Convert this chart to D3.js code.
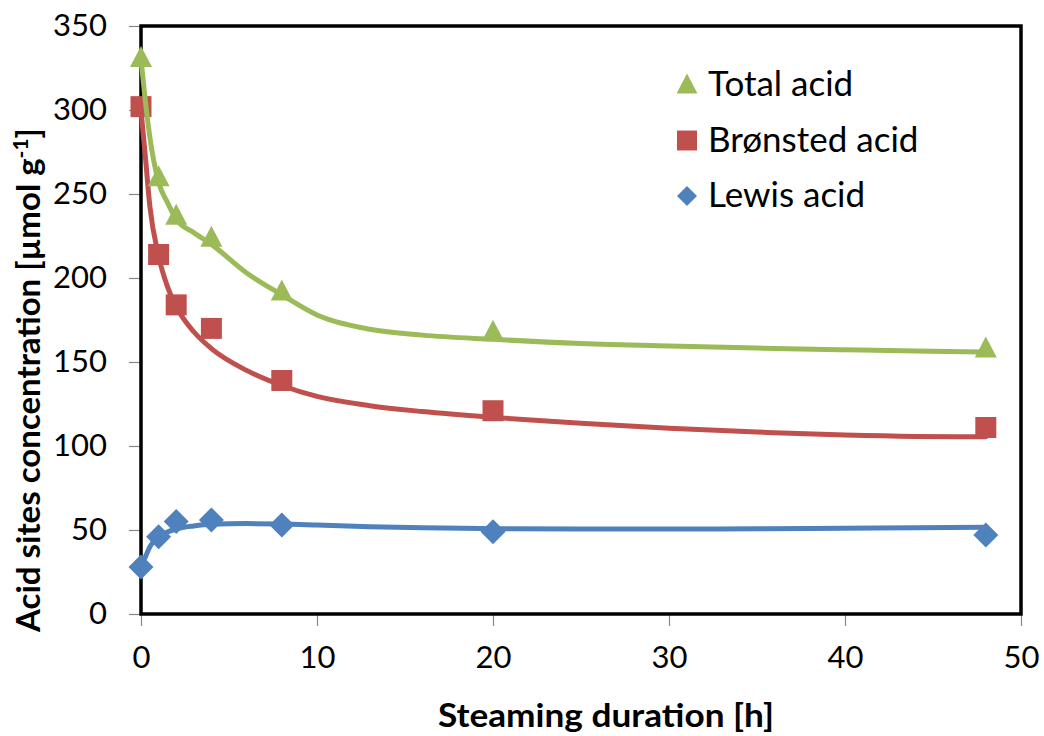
<!DOCTYPE html>
<html>
<head>
<meta charset="utf-8">
<title>Acid sites vs steaming</title>
<script src="https://cdn.jsdelivr.net/npm/d3@7"></script>
<style>
  body { margin: 0; background: #fff; }
  svg { display: block; }
  text { font-family: Lato, "Open Sans", sans-serif; fill: #000; }
</style>
</head>
<body>
<svg id="chart" width="1044" height="736"></svg>
<script>
// measured points
var hours = [0, 1, 2, 4, 8, 20, 48];
var totalAcid = [331, 260, 237, 224, 192, 168, 158];
var bronstedAcid = [302, 214, 184, 170, 139, 121, 111];
var lewisAcid = [28, 46, 55, 56, 53, 49, 47];

// trend lines
var fitHours = [0, 0.25, 0.5, 1, 1.5, 2, 3, 4, 6, 8, 10, 13, 16, 20, 25, 30, 35, 40, 44, 48];
var totalFit = [330, 305, 284, 257, 245, 235, 227, 220, 203, 190, 178, 169.5, 166, 163.5, 161, 159.5, 158.3, 157.3, 156.5, 156];
var bronstedFit = [300, 272, 243, 213, 195, 183, 168, 158, 145, 136, 129.5, 124, 120.5, 117, 113.5, 110.5, 108.3, 106.5, 105.7, 105.5];
var lewisFit = [28, 34, 40, 46, 48.8, 50.6, 52.4, 53.4, 53.8, 53.6, 53, 52, 51.3, 50.8, 50.6, 50.6, 50.7, 51, 51.3, 51.6];

var xTicks = [0, 10, 20, 30, 40, 50];
var yTicks = [0, 50, 100, 150, 200, 250, 300, 350];

var svg = d3.select('#chart');
var plotLeft = 141, plotRight = 1021, plotTop = 26, plotBottom = 614;

var x = d3.scaleLinear().domain([0, 50]).range([plotLeft, plotRight]);
var y = d3.scaleLinear().domain([0, 350]).range([plotBottom, plotTop]);

// axes with outside ticks
var yAxis = svg.append('g')
  .attr('transform', 'translate(' + plotLeft + ',0)')
  .call(d3.axisLeft(y).tickValues(yTicks).tickSize(12).tickPadding(22));
var xAxis = svg.append('g')
  .attr('transform', 'translate(0,' + plotBottom + ')')
  .call(d3.axisBottom(x).tickValues(xTicks).tickSize(12).tickPadding(20));

[yAxis, xAxis].forEach(function (g) {
  g.select('.domain').remove();
  g.selectAll('line').attr('stroke', '#888').attr('stroke-width', 1.2);
  g.selectAll('text').attr('font-family', 'Lato, sans-serif').attr('font-size', 31).attr('fill', '#000');
});

// plot frame
svg.append('rect')
  .attr('x', plotLeft).attr('y', plotTop)
  .attr('width', plotRight - plotLeft).attr('height', plotBottom - plotTop)
  .attr('fill', 'none').attr('stroke', '#000').attr('stroke-width', 3.5);

var series = [
  {name: 'Lewis acid', color: '#4F81BD', shape: 'diamond', values: lewisAcid, fit: lewisFit},
  {name: 'Brønsted acid', color: '#C0504D', shape: 'square', values: bronstedAcid, fit: bronstedFit},
  {name: 'Total acid', color: '#9BBB59', shape: 'triangle', values: totalAcid, fit: totalFit}
];

function markerPath(shape) {
  if (shape === 'triangle') return 'M0,-12L11,9L-11,9Z';
  if (shape === 'square') return 'M-10.5,-10.5H10.5V10.5H-10.5Z';
  return 'M0,-12.5L12.5,0L0,12.5L-12.5,0Z';
}

var line = d3.line()
  .x(function (d) { return x(d[0]); })
  .y(function (d) { return y(d[1]); })
  .curve(d3.curveMonotoneX);

series.forEach(function (s) {
  svg.append('path')
    .datum(d3.zip(fitHours, s.fit))
    .attr('d', line)
    .attr('fill', 'none')
    .attr('stroke', s.color)
    .attr('stroke-width', 5)
    .attr('stroke-linecap', 'round');

  svg.append('g').selectAll('path')
    .data(d3.zip(hours, s.values))
    .enter()
    .append('path')
    .attr('d', markerPath(s.shape))
    .attr('transform', function (d) { return 'translate(' + x(d[0]) + ',' + y(d[1]) + ')'; })
    .attr('fill', s.color);
});

// legend
var legend = svg.append('g').attr('transform', 'translate(687,85)');
series.slice().reverse().forEach(function (s, i) {
  var row = legend.append('g').attr('transform', 'translate(0,' + (i * 55.5) + ')');
  var sc = s.shape === 'diamond' ? 0.8 : 0.95;
  row.append('path')
    .attr('d', markerPath(s.shape))
    .attr('transform', 'scale(' + sc + ')')
    .attr('fill', s.color);
  row.append('text')
    .attr('x', 21).attr('y', 11)
    .attr('font-size', 35)
    .text(s.name);
});

// axis titles
svg.append('text')
  .attr('x', 606).attr('y', 727)
  .attr('text-anchor', 'middle')
  .attr('font-size', 33)
  .attr('font-weight', 'bold')
  .attr('textLength', 336)
  .attr('lengthAdjust', 'spacingAndGlyphs')
  .text('Steaming duration [h]');

var yTitle = svg.append('text')
  .attr('transform', 'translate(40,380) rotate(-90)')
  .attr('text-anchor', 'middle')
  .attr('font-size', 33)
  .attr('font-weight', 'bold');
yTitle.append('tspan').text('Acid sites concentration [µmol g');
yTitle.append('tspan').attr('font-size', 21).attr('dy', -12).text('-1');
yTitle.append('tspan').attr('dy', 12).text(']');
</script>
</body>
</html>
